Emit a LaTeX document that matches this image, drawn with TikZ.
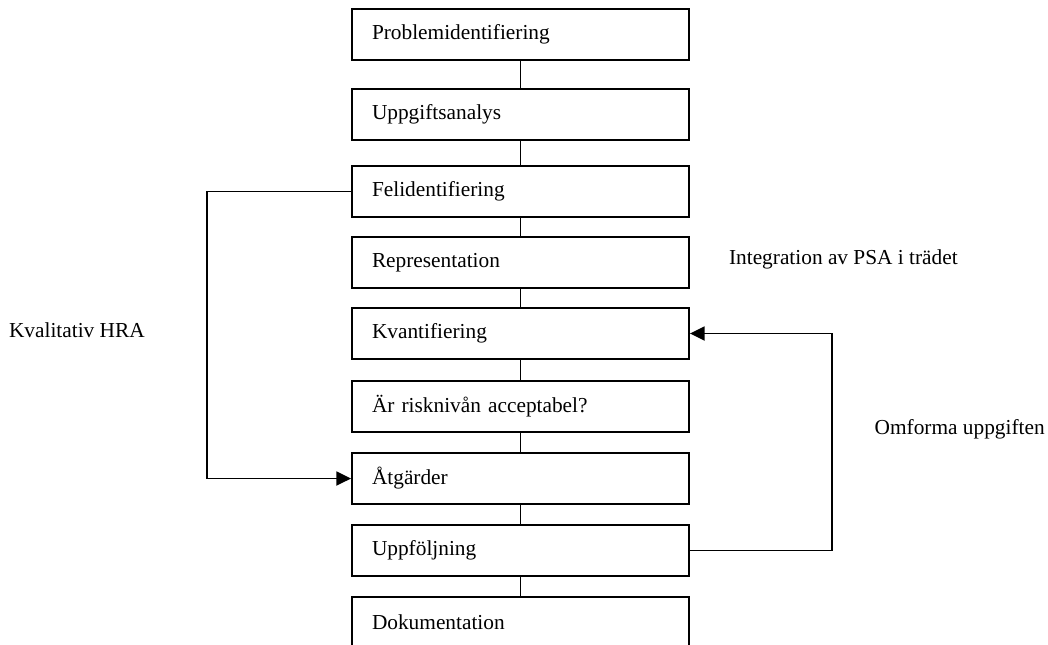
\documentclass[tikz,border=0pt]{standalone}
\usepackage{fontspec}
\setmainfont{Liberation Serif}
\usetikzlibrary{arrows.meta}
\begin{document}
\begin{tikzpicture}[x=0.75pt,y=-0.75pt,
  stepbox/.style={draw, line width=1.4pt, rectangle, minimum width=252.75pt,
    minimum height=38.25pt, text width=222.75pt, align=left, inner xsep=15pt,
    font=\fontsize{16}{19}\selectfont},
  lbl/.style={inner sep=0pt, font=\fontsize{16}{19}\selectfont},
  link/.style={line width=1.4pt},
  arr/.style={line width=1.4pt, -{Triangle[length=11pt,width=10.5pt]}}]
\useasboundingbox (0,0) rectangle (1048,644);
\node[stepbox] (b1) at (520.5,34.5) {Problemidentifiering};
\node[stepbox] (b2) at (520.5,114.5) {Uppgiftsanalys};
\node[stepbox] (b3) at (520.5,191.5) {Felidentifiering};
\node[stepbox] (b4) at (520.5,262.5) {Representation};
\node[stepbox] (b5) at (520.5,333.5) {Kvantifiering};
\node[stepbox] (b6) at (520.5,406.5) {Är risknivån acceptabel?};
\node[stepbox] (b7) at (520.5,478.5) {Åtgärder};
\node[stepbox] (b8) at (520.5,550.5) {Uppföljning};
\node[stepbox] (b9) at (520.5,622.5) {Dokumentation};
\draw[link] (b1) -- (b2);
\draw[link] (b2) -- (b3);
\draw[link] (b3) -- (b4);
\draw[link] (b4) -- (b5);
\draw[link] (b5) -- (b6);
\draw[link] (b6) -- (b7);
\draw[link] (b7) -- (b8);
\draw[link] (b8) -- (b9);
\coordinate (lt) at (207,191.5);
\coordinate (lb) at (207,478.5);
\coordinate (rb) at (832,550.5);
\coordinate (rt) at (832,333.5);
\draw[arr] (b3.west) -- (lt) -- (lb) -- (b7.west);
\draw[arr] (b8.east) -- (rb) -- (rt) -- (b5.east);
\node[lbl, anchor=base east] (lint) at (958,264) {Integration av PSA i trädet};
\node[lbl, anchor=base east] (lkva) at (145,337) {Kvalitativ HRA};
\node[lbl, anchor=base east] (lomf) at (1045,434) {Omforma uppgiften};
\end{tikzpicture}
\end{document}
